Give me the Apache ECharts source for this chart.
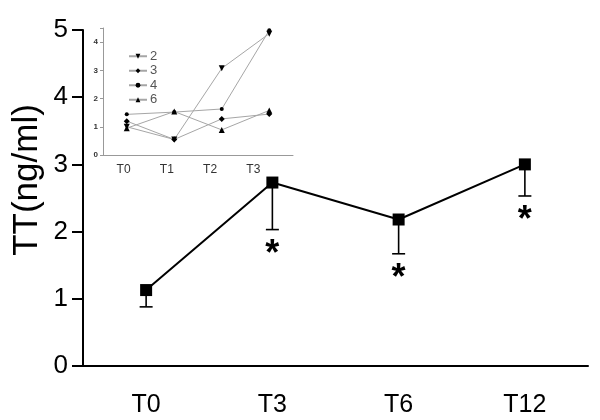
<!DOCTYPE html>
<html>
<head>
<meta charset="utf-8">
<script src="https://cdn.jsdelivr.net/npm/echarts@6/dist/echarts.min.js"></script>
<style>html,body{margin:0;padding:0;background:#fff;}#c{width:600px;height:420px;}</style>
</head>
<body>
<div id="c"></div>
<script>
// Main chart data
var mainCategories = ['T0', 'T3', 'T6', 'T12'];
var mainMean = [1.13, 2.73, 2.18, 3.0];
var mainLower = [0.88, 2.03, 1.67, 2.53];
var mainStar = [0, 1, 1, 1];
var mainYTicks = [0, 1, 2, 3, 4, 5];

// Inset chart data
var insetCategories = ['T0', 'T1', 'T2', 'T3'];
var insetNames = ['2', '3', '4', '6'];
var inset2 = [1.0, 0.55, 3.07, 4.3];
var inset3 = [1.2, 0.55, 1.28, 1.45];
var inset4 = [1.44, 1.52, 1.63, 4.42];
var inset6 = [0.95, 1.54, 0.89, 1.58];

var FONT = 'Liberation Sans, Arial, sans-serif';
var chart = echarts.init(document.getElementById('c'), null, {renderer: 'canvas'});

var errData = mainCategories.map(function (c, i) { return [i, mainMean[i], mainLower[i], mainStar[i]]; });

function insetSeries(name, data, symbol, size, rotate) {
  return {
    name: name, type: 'line', xAxisIndex: 1, yAxisIndex: 1, data: data,
    symbol: symbol, symbolSize: size, symbolRotate: rotate || 0,
    lineStyle: {color: '#a6a6a6', width: 1},
    itemStyle: {color: '#000'},
    silent: true, animation: false, z: 5
  };
}

var option = {
  animation: false,
  backgroundColor: '#fff',
  graphic: [{
    type: 'text', x: 27, y: 180, rotation: Math.PI / 2,
    style: {text: 'TT(ng/ml)', fontSize: 35, fontFamily: FONT, fill: '#000', align: 'center', verticalAlign: 'middle'}
  }],
  legend: {
    data: insetNames, orient: 'vertical', left: 123, top: 44,
    itemWidth: 18, itemHeight: 6, itemGap: 0,
    textStyle: {fontSize: 13, fontFamily: FONT, color: '#555', padding: [0, 0, 0, -2], lineHeight: 14.5},
    inactiveColor: '#ccc'
  },
  grid: [
    {left: 83, right: 12, top: 30, bottom: 54},
    {left: 103, top: 28, width: 190, height: 127},
    {left: 102, top: 28, width: 173, height: 127}
  ],
  xAxis: [
    {
      gridIndex: 0, type: 'category', data: mainCategories, boundaryGap: true,
      axisLine: {lineStyle: {color: '#000', width: 2}},
      axisTick: {alignWithLabel: true, length: 11, lineStyle: {color: '#000', width: 2}},
      axisLabel: {fontSize: 25, fontFamily: FONT, color: '#000', margin: 27}
    },
    {
      gridIndex: 1, type: 'category', data: insetCategories, boundaryGap: true,
      axisLine: {lineStyle: {color: '#999', width: 1}},
      axisTick: {alignWithLabel: true, length: 4, lineStyle: {color: '#999', width: 1}},
      axisLabel: {show: false}
    },
    {
      gridIndex: 2, type: 'category', data: insetCategories, boundaryGap: true,
      axisLine: {show: false}, axisTick: {show: false},
      axisLabel: {fontSize: 12, fontFamily: FONT, color: '#333', margin: 9}
    }
  ],
  yAxis: [
    {
      gridIndex: 0, type: 'value', min: mainYTicks[0], max: mainYTicks[mainYTicks.length - 1], interval: 1,
      splitLine: {show: false},
      axisLine: {show: true, lineStyle: {color: '#000', width: 2}},
      axisTick: {show: true, length: 11, lineStyle: {color: '#000', width: 2}},
      axisLabel: {fontSize: 26, fontFamily: FONT, color: '#000', margin: 15}
    },
    {
      gridIndex: 1, type: 'value', min: 0, max: 4.5, interval: 1,
      splitLine: {show: false},
      axisLine: {show: true, lineStyle: {color: '#999', width: 1}},
      axisTick: {show: true, length: 3, lineStyle: {color: '#999', width: 1}},
      axisLabel: {fontSize: 8, fontWeight: 'bold', fontFamily: FONT, color: '#333', margin: 5,
        formatter: function (v) { return v > 4 ? '' : String(v); }}
    },
    {gridIndex: 2, type: 'value', min: 0, max: 4.5, show: false}
  ],
  series: [
    {
      type: 'custom', xAxisIndex: 0, yAxisIndex: 0, data: errData, z: 2, silent: true,
      renderItem: function (params, api) {
        var p0 = api.coord([api.value(0), api.value(1)]);
        var p1 = api.coord([api.value(0), api.value(2)]);
        var children = [
          {type: 'line', shape: {x1: p0[0], y1: p0[1], x2: p1[0], y2: p1[1]}, style: {stroke: '#000', lineWidth: 1.6}},
          {type: 'line', shape: {x1: p1[0] - 6.5, y1: p1[1], x2: p1[0] + 6.5, y2: p1[1]}, style: {stroke: '#000', lineWidth: 1.6}}
        ];
        if (api.value(3)) {
          children.push({type: 'text', x: p1[0], y: p1[1] + 25,
            style: {text: '*', fontSize: 36, fontWeight: 'bold', fontFamily: FONT, fill: '#000', align: 'center', verticalAlign: 'middle'}});
        }
        return {type: 'group', children: children};
      }
    },
    {
      type: 'line', xAxisIndex: 0, yAxisIndex: 0, data: mainMean, z: 3,
      symbol: 'rect', symbolSize: 12, showSymbol: true,
      lineStyle: {color: '#000', width: 2}, itemStyle: {color: '#000'}, silent: true
    },
    insetSeries('2', inset2, 'triangle', 6, 180),
    insetSeries('3', inset3, 'diamond', 6),
    insetSeries('4', inset4, 'circle', 4),
    insetSeries('6', inset6, 'triangle', 6)
  ]
};
chart.setOption(option);
</script>
</body>
</html>
